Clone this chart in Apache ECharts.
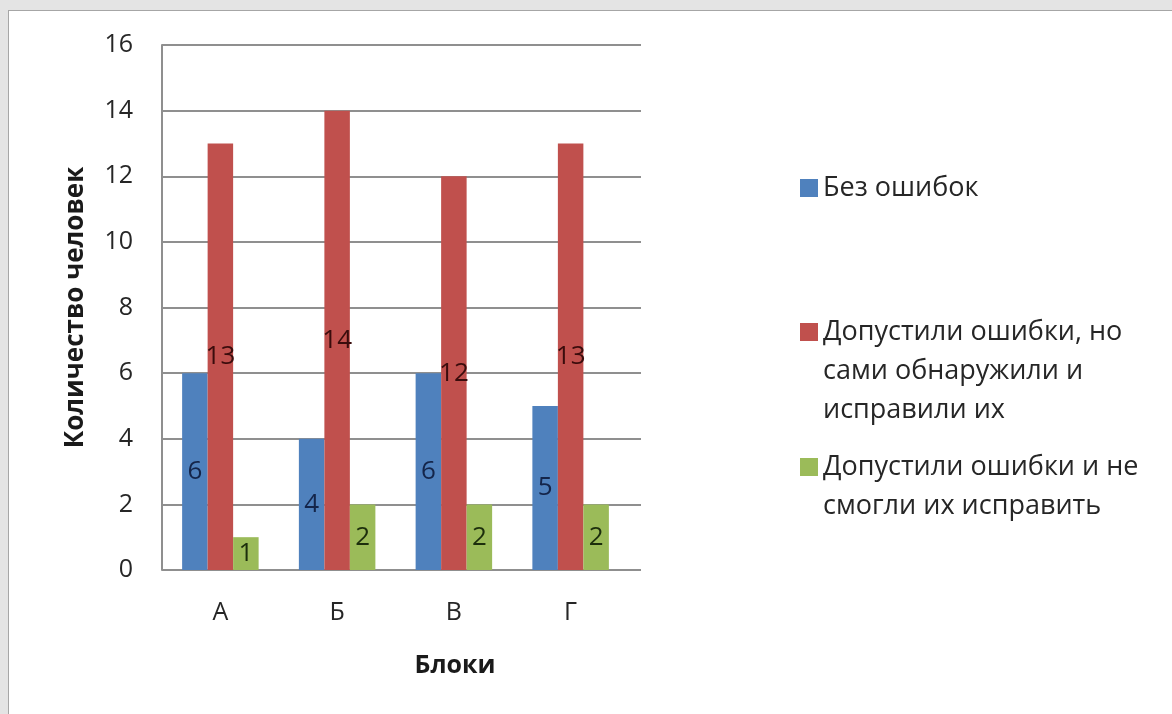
<!DOCTYPE html>
<html><head><meta charset="utf-8">
<script src="https://cdn.jsdelivr.net/npm/echarts@6/dist/echarts.min.js"></script>
<style>
html,body{margin:0;padding:0;width:1172px;height:714px;overflow:hidden;background:#e4e4e4}
#frame{position:absolute;left:8px;top:10px;width:1164px;height:704px;border-left:1px solid #a6a6a6;border-top:1px solid #a6a6a6;background:#fff;box-sizing:border-box}
#chart{position:absolute;left:9px;top:11px;width:1163px;height:703px}
</style></head><body>
<div id="frame"></div><div id="chart"></div>
<script>
// ---- data ----
const categories = ['А', 'Б', 'В', 'Г'];
const noErrors = [6, 4, 6, 5];
const foundAndFixed = [13, 14, 12, 13];
const notFixed = [1, 2, 2, 2];
const legendLines = [
  ['Без ошибок'],
  ['Допустили ошибки, но', 'сами обнаружили и', 'исправили их'],
  ['Допустили ошибки и не', 'смогли их исправить']
];
const seriesValues = [noErrors, foundAndFixed, notFixed];
const yMin = 0, yMax = 16, yStep = 2;
const xTitle = 'Блоки';
const yTitle = 'Количество человек';

// ---- styling ----
const colors = ['#4F81BD', '#C0504D', '#9BBB59'];
const labelColors = ['#14254a', '#3a0c0c', '#1c2e0c'];
const FONT = '"Open Sans", "Noto Sans", sans-serif';
const gridColor = '#8f8f8f';
const LH = 39;
const legendTops = [157.5, 223.5, 397.5];

const names = legendLines.map(l => l.join(' '));

const chart = echarts.init(document.getElementById('chart'), null, {renderer: 'canvas'});

const legends = names.map((nm, i) => {
  const n = legendLines[i].length;
  // leading blank lines keep the swatch level with the first text line
  const prefix = '\n'.repeat(n - 1);
  return {
    data: [nm],
    orient: 'vertical',
    left: 791,
    top: legendTops[i],
    padding: 0,
    itemWidth: 18,
    itemHeight: 18,
    icon: 'rect',
    selectedMode: false,
    formatter: () => prefix + legendLines[i].join('\n'),
    textStyle: {
      fontFamily: FONT, fontSize: 27, color: '#262626',
      lineHeight: LH
    }
  };
});

const series = seriesValues.map((vals, i) => ({
  name: names[i],
  type: 'bar',
  xAxisIndex: 0, yAxisIndex: 0,
  data: vals,
  barWidth: 25.5,
  barGap: '0%',
  itemStyle: {color: colors[i]},
  label: {
    show: true, position: 'inside',
    fontFamily: FONT, fontSize: 26, color: labelColors[i]
  }
}));

chart.setOption({
  animation: false,
  backgroundColor: 'transparent',
  grid: [
    {left: 153, top: 34, width: 467, height: 525, containLabel: false},
    {left: 153, top: 34, width: 479, height: 525, containLabel: false}
  ],
  xAxis: [
    {
      type: 'category', gridIndex: 0, data: categories,
      axisLine: {show: false}, axisTick: {show: false},
      axisLabel: {fontFamily: FONT, fontSize: 25, color: '#262626', margin: 30},
      splitLine: {show: false}
    },
    {type: 'value', gridIndex: 1, min: 0, max: 1, show: false}
  ],
  yAxis: [
    {
      type: 'value', gridIndex: 0, min: yMin, max: yMax, interval: yStep,
      name: yTitle, nameLocation: 'middle', nameRotate: 90, nameGap: 73,
      nameTextStyle: {fontFamily: FONT, fontSize: 26, fontWeight: 'bold', color: '#1a1a1a'},
      axisLine: {show: true, lineStyle: {color: gridColor, width: 2}},
      axisTick: {show: false},
      axisLabel: {fontFamily: FONT, fontSize: 25, color: '#262626', margin: 29},
      splitLine: {show: false}
    },
    {
      type: 'value', gridIndex: 1, min: yMin, max: yMax, interval: yStep,
      axisLine: {show: false}, axisTick: {show: false}, axisLabel: {show: false},
      splitLine: {show: true, lineStyle: {color: gridColor, width: 2}}
    }
  ],
  legend: legends,
  graphic: [{
    type: 'text', x: 446, y: 655,
    style: {text: xTitle, align: 'center', verticalAlign: 'middle',
      font: 'bold 25px ' + FONT, fill: '#1a1a1a'}
  }],
  series: series
});
</script>
</body></html>
